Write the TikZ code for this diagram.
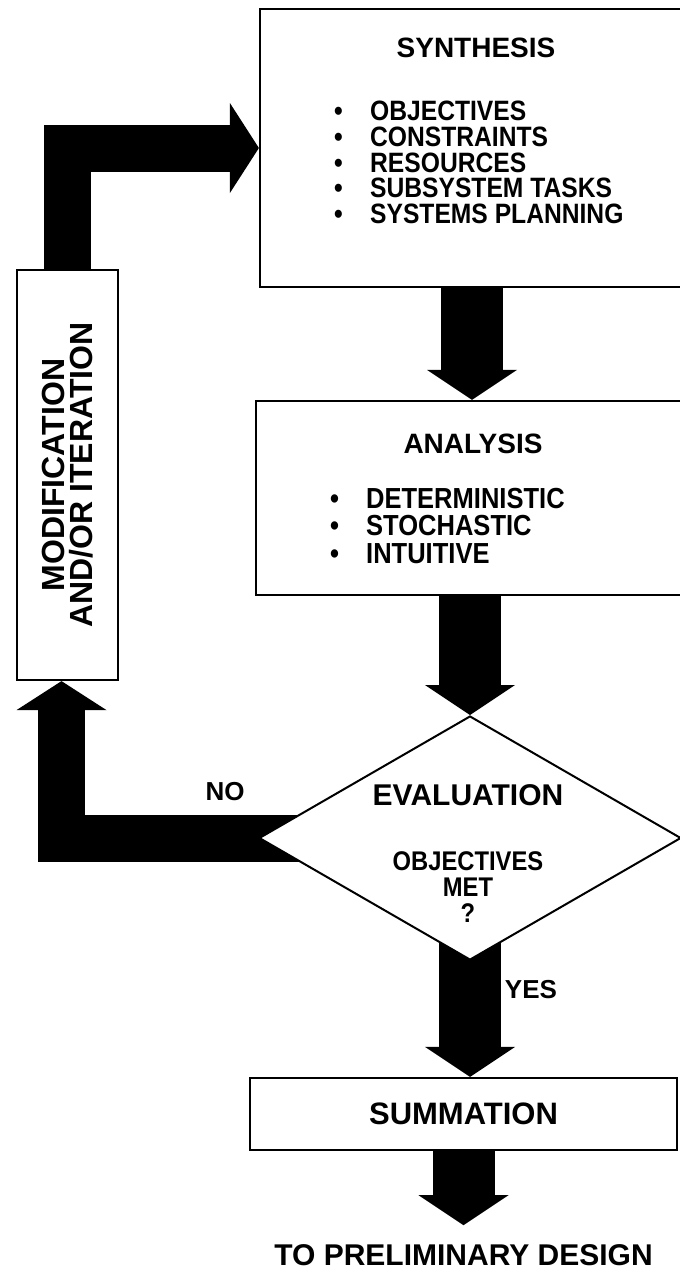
\documentclass[tikz,border=0pt]{standalone}
\usepackage{fontspec}
\setmainfont{Liberation Sans}
\newfontfamily\condfont[FakeStretch=0.88]{Liberation Sans}
\usetikzlibrary{arrows.meta,shapes.geometric,backgrounds}

% bullet item with a fixed indent
\newcommand{\itm}[1]{\makebox[36pt][l]{\textbullet}#1}

\tikzset{
  box/.style={draw, line width=2.2pt, fill=white, inner sep=0pt},
  decision/.style={diamond, draw, line width=2pt, fill=white, inner sep=0pt,
    minimum width=422pt, minimum height=244pt},
  title/.style={font=\fontsize{28}{30}\selectfont\bfseries},
  label/.style={font=\fontsize{26}{28}\selectfont\bfseries},
  flow/.style={line width=62pt, -{Triangle[width=90pt,length=30pt,line width=0pt]}},
  loopback/.style={line width=47pt, line join=miter,
    -{Triangle[width=90pt,length=29pt,line width=0pt]}},
}

\begin{document}
\begin{tikzpicture}[x=1pt, y=-1pt]
    \useasboundingbox (0,0) rectangle (680,1270);

    % Synthesis
    \node[box, minimum width=424pt, minimum height=278pt] (syn) at (472,148) {};
    \node[title] (synhead) at (476,48) {SYNTHESIS};
    \node[anchor=north west, inner sep=0pt, align=left,
      font=\condfont\fontsize{28}{25.7}\selectfont\bfseries] (synlist) at (334,101)
      {\itm{OBJECTIVES}\\ \itm{CONSTRAINTS}\\ \itm{RESOURCES}\\
       \itm{SUBSYSTEM TASKS}\\ \itm{SYSTEMS PLANNING}};

    % Modification box on the loop
    \node[box, minimum width=101pt, minimum height=410pt] (mod) at (67.5,475) {};
    \node[rotate=90, align=center, font=\fontsize{32}{28}\selectfont\bfseries]
      (modtext) at (mod.center) {MODIFICATION\\AND/OR ITERATION};

    % Analysis
    \node[box, minimum width=428pt, minimum height=194pt] (ana) at (470,498) {};
    \node[title] (anahead) at (473,444) {ANALYSIS};
    \node[anchor=north west, inner sep=0pt, align=left,
      font=\condfont\fontsize{29}{27.5}\selectfont\bfseries] (analist) at (330,488)
      {\itm{DETERMINISTIC}\\ \itm{STOCHASTIC}\\ \itm{INTUITIVE}};

    % Evaluation
    \node[decision] (eval) at (470,838) {};
    \node[font=\fontsize{30}{32}\selectfont\bfseries] (evalhead) at (468,795) {EVALUATION};
    \node[align=center, font=\condfont\fontsize{27}{26}\selectfont\bfseries]
      (evalq) at (468,887) {OBJECTIVES\\MET\\?};
    \node[label] (no) at (225,792) {NO};
    \node[label] (yes) at (531,990) {YES};

    % Summation and exit
    \node[box, minimum width=427pt, minimum height=72pt,
      font=\fontsize{31}{33}\selectfont\bfseries] (sum) at (463.5,1114) {SUMMATION};
    \node[inner ysep=19pt, font=\fontsize{30}{32}\selectfont\bfseries]
      (out) at (463.5,1255) {TO PRELIMINARY DESIGN};

    % Block arrows behind the boxes
    \begin{scope}[on background layer]
      \fill[white] (0,0) rectangle (680,1270);
      \draw[flow] (syn.south) -- (syn.south |- ana.north);
      \draw[flow] (ana.south) -- (eval.north);
      \draw[flow] (eval.center) -- (eval.center |- sum.north);
      \draw[flow] (sum.south) -- (out.north);
      \draw[loopback] (eval.center) -| ([xshift=-6pt]mod.south);
      \draw[loopback] (mod.north) |- (syn.west);
    \end{scope}
\end{tikzpicture}
\end{document}
